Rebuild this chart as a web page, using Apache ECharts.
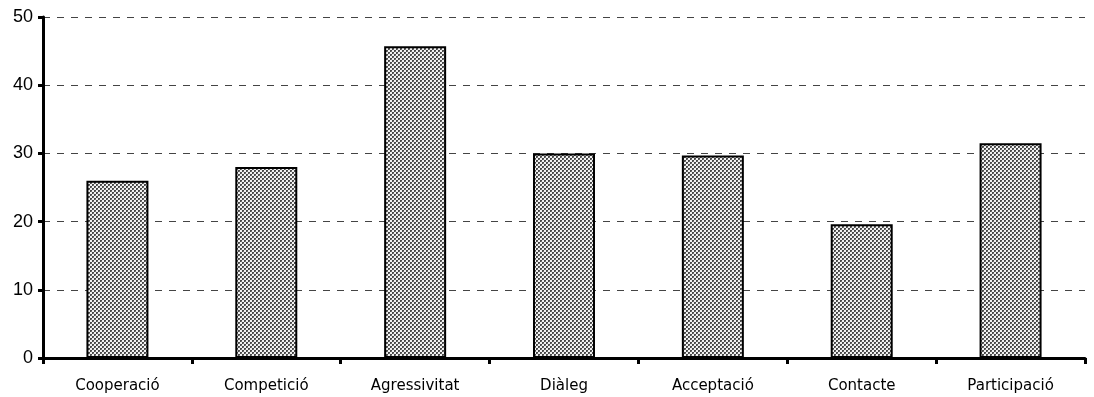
<!DOCTYPE html>
<html><head><meta charset="utf-8">
<script src="https://cdn.jsdelivr.net/npm/echarts@6/dist/echarts.min.js"></script>
<style>html,body{margin:0;padding:0;background:#fff}#c{width:1094px;height:397px}</style>
</head><body><div id="c"></div>
<script>
const categories = ['Cooperació','Competició','Agressivitat','Diàleg','Acceptació','Contacte','Participació'];
const values = [26, 28, 45.7, 30, 29.7, 19.6, 31.5];
const yTicks = [0, 10, 20, 30, 40, 50];

function makePattern(){
  const c = document.createElement('canvas');
  c.width = 4; c.height = 4;
  const g = c.getContext('2d');
  g.fillStyle = '#f2f2f2'; g.fillRect(0,0,4,4);
  g.fillStyle = '#4a4a4a';
  g.fillRect(0,0,2,2); g.fillRect(2,2,2,2);
  g.fillStyle = '#777';
  g.fillRect(1,1,1,1); g.fillRect(3,3,1,1);
  return c;
}

const chart = echarts.init(document.getElementById('c'));
chart.setOption({
  animation:false,
  grid:{left:43,right:9,top:17,bottom:39,containLabel:false},
  xAxis:{type:'category',data:categories,
    axisLine:{lineStyle:{color:'#000',width:3}},
    axisTick:{show:true,length:6,lineStyle:{color:'#000',width:3},alignWithLabel:false},
    axisLabel:{color:'#000',fontFamily:'DejaVu Sans, sans-serif',fontSize:15,margin:21}
  },
  yAxis:{type:'value',min:yTicks[0],max:yTicks[yTicks.length-1],interval:10,
    axisLine:{show:true,lineStyle:{color:'#000',width:3}},
    axisTick:{show:true,length:5,lineStyle:{color:'#000',width:3}},
    axisLabel:{color:'#000',fontFamily:'Liberation Sans, Arial, sans-serif',fontSize:18,margin:10},
    splitLine:{show:true,lineStyle:{color:'#444',type:[7,7],width:1}}
  },
  series:[{type:'bar',data:values,barWidth:62,
    itemStyle:{color:{image:makePattern(),repeat:'repeat'},borderColor:'#000',borderWidth:2}
  }]
});
</script></body></html>
